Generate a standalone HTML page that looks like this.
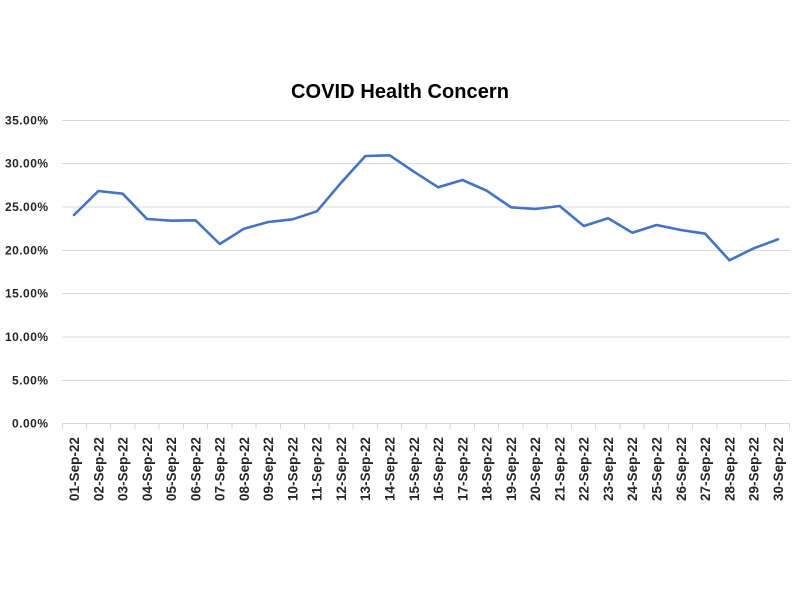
<!DOCTYPE html>
<html><head><meta charset="utf-8"><style>
html,body{margin:0;padding:0;background:#fff;}
svg{display:block;}
text{font-family:"Liberation Sans",sans-serif;fill:#262626;}
</style></head><body>
<svg width="800" height="600" viewBox="0 0 800 600" xmlns="http://www.w3.org/2000/svg">
<rect width="800" height="600" fill="#fff"/>
<text x="400" y="98" text-anchor="middle" font-size="20" font-weight="bold" fill="#000" style="fill:#000" textLength="218">COVID Health Concern</text>
<g stroke="#d9d9d9" stroke-width="1">
<line x1="62" y1="120.5" x2="790" y2="120.5"/>
<line x1="62" y1="163.5" x2="790" y2="163.5"/>
<line x1="62" y1="207" x2="790" y2="207"/>
<line x1="62" y1="250.5" x2="790" y2="250.5"/>
<line x1="62" y1="293.5" x2="790" y2="293.5"/>
<line x1="62" y1="337" x2="790" y2="337"/>
<line x1="62" y1="380.5" x2="790" y2="380.5"/>
<line x1="62" y1="423.5" x2="790" y2="423.5"/>
</g>
<g font-size="12" font-weight="bold" text-anchor="end">
<text x="48" y="124.5" textLength="43">35.00%</text>
<text x="48" y="167.5" textLength="43">30.00%</text>
<text x="48" y="211" textLength="43">25.00%</text>
<text x="48" y="254.5" textLength="43">20.00%</text>
<text x="48" y="297.5" textLength="43">15.00%</text>
<text x="48" y="341" textLength="43">10.00%</text>
<text x="48" y="384.5" textLength="36">5.00%</text>
<text x="48" y="427.5" textLength="36">0.00%</text>
</g>
<g stroke="#d9d9d9" stroke-width="1">
<line x1="62.5" y1="424" x2="62.5" y2="429"/><line x1="86.5" y1="424" x2="86.5" y2="429"/><line x1="110.5" y1="424" x2="110.5" y2="429"/><line x1="135" y1="424" x2="135" y2="429"/><line x1="159" y1="424" x2="159" y2="429"/><line x1="183.5" y1="424" x2="183.5" y2="429"/><line x1="207.5" y1="424" x2="207.5" y2="429"/><line x1="232" y1="424" x2="232" y2="429"/><line x1="256" y1="424" x2="256" y2="429"/><line x1="280.5" y1="424" x2="280.5" y2="429"/><line x1="304.5" y1="424" x2="304.5" y2="429"/><line x1="329" y1="424" x2="329" y2="429"/><line x1="353" y1="424" x2="353" y2="429"/><line x1="377.5" y1="424" x2="377.5" y2="429"/><line x1="401.5" y1="424" x2="401.5" y2="429"/><line x1="426" y1="424" x2="426" y2="429"/><line x1="450" y1="424" x2="450" y2="429"/><line x1="474.5" y1="424" x2="474.5" y2="429"/><line x1="498.5" y1="424" x2="498.5" y2="429"/><line x1="523" y1="424" x2="523" y2="429"/><line x1="547" y1="424" x2="547" y2="429"/><line x1="571.5" y1="424" x2="571.5" y2="429"/><line x1="595.5" y1="424" x2="595.5" y2="429"/><line x1="620" y1="424" x2="620" y2="429"/><line x1="644" y1="424" x2="644" y2="429"/><line x1="668.5" y1="424" x2="668.5" y2="429"/><line x1="692.5" y1="424" x2="692.5" y2="429"/><line x1="717" y1="424" x2="717" y2="429"/><line x1="741" y1="424" x2="741" y2="429"/><line x1="765.5" y1="424" x2="765.5" y2="429"/><line x1="789.5" y1="424" x2="789.5" y2="429"/>
</g>
<g font-size="13.4" font-weight="bold" text-anchor="end" fill="#000" style="fill:#000">
<text transform="translate(79,437) rotate(-90)" textLength="64">01-Sep-22</text>
<text transform="translate(103.3,437) rotate(-90)" textLength="64">02-Sep-22</text>
<text transform="translate(127.5,437) rotate(-90)" textLength="64">03-Sep-22</text>
<text transform="translate(151.8,437) rotate(-90)" textLength="64">04-Sep-22</text>
<text transform="translate(176.1,437) rotate(-90)" textLength="64">05-Sep-22</text>
<text transform="translate(200.3,437) rotate(-90)" textLength="64">06-Sep-22</text>
<text transform="translate(224.6,437) rotate(-90)" textLength="64">07-Sep-22</text>
<text transform="translate(248.9,437) rotate(-90)" textLength="64">08-Sep-22</text>
<text transform="translate(273.2,437) rotate(-90)" textLength="64">09-Sep-22</text>
<text transform="translate(297.4,437) rotate(-90)" textLength="64">10-Sep-22</text>
<text transform="translate(321.7,437) rotate(-90)" textLength="64">11-Sep-22</text>
<text transform="translate(346,437) rotate(-90)" textLength="64">12-Sep-22</text>
<text transform="translate(370.2,437) rotate(-90)" textLength="64">13-Sep-22</text>
<text transform="translate(394.5,437) rotate(-90)" textLength="64">14-Sep-22</text>
<text transform="translate(418.8,437) rotate(-90)" textLength="64">15-Sep-22</text>
<text transform="translate(443,437) rotate(-90)" textLength="64">16-Sep-22</text>
<text transform="translate(467.3,437) rotate(-90)" textLength="64">17-Sep-22</text>
<text transform="translate(491.6,437) rotate(-90)" textLength="64">18-Sep-22</text>
<text transform="translate(515.9,437) rotate(-90)" textLength="64">19-Sep-22</text>
<text transform="translate(540.1,437) rotate(-90)" textLength="64">20-Sep-22</text>
<text transform="translate(564.4,437) rotate(-90)" textLength="64">21-Sep-22</text>
<text transform="translate(588.7,437) rotate(-90)" textLength="64">22-Sep-22</text>
<text transform="translate(612.9,437) rotate(-90)" textLength="64">23-Sep-22</text>
<text transform="translate(637.2,437) rotate(-90)" textLength="64">24-Sep-22</text>
<text transform="translate(661.5,437) rotate(-90)" textLength="64">25-Sep-22</text>
<text transform="translate(685.8,437) rotate(-90)" textLength="64">26-Sep-22</text>
<text transform="translate(710,437) rotate(-90)" textLength="64">27-Sep-22</text>
<text transform="translate(734.3,437) rotate(-90)" textLength="64">28-Sep-22</text>
<text transform="translate(758.6,437) rotate(-90)" textLength="64">29-Sep-22</text>
<text transform="translate(782.8,437) rotate(-90)" textLength="64">30-Sep-22</text>
</g>
<polyline fill="none" stroke="#4472C4" stroke-width="2.6" stroke-linejoin="round" stroke-linecap="round"
points="74,215 98.4,191 122.7,193.7 147,219 171.2,220.7 195.5,220.3 219.8,244 244,228.7 268.3,222 292.6,219.3 316.9,211.3 341.1,182.7 365.4,156 389.7,155.3 413.9,171.7 438.2,187.3 462.5,180 486.7,190.7 511,207.3 535.3,209 559.6,206 583.8,226 608.1,218.3 632.4,232.7 656.6,225 680.9,230 705.2,233.7 729.4,260.3 753.7,248.3 778,239.3"/>
</svg>
</body></html>
